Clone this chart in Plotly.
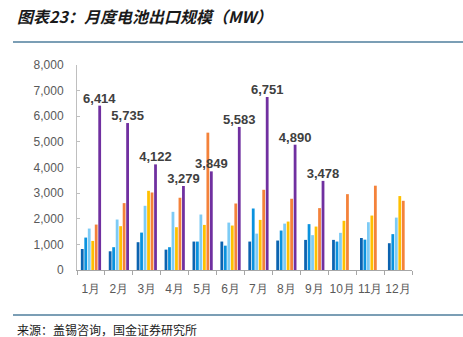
import plotly.graph_objects as go

months = ["1月", "2月", "3月", "4月", "5月", "6月", "7月", "8月", "9月", "10月", "11月", "12月"]
series_names = ["2018", "2019", "2020", "2021", "2022", "2023"]
s2018 = [820, 730, 1085, 795, 1110, 1110, 1110, 1150, 1175, 1175, 1250, 1045]
s2019 = [1265, 890, 1460, 890, 1110, 950, 2400, 1540, 1790, 1110, 1185, 1400]
s2020 = [1617, 1970, 2505, 2270, 2165, 1850, 1420, 1810, 1360, 1450, 1865, 2045]
s2021 = [1135, 1710, 3090, 1670, 1760, 1735, 1955, 1890, 1695, 1920, 2125, 2885]
s2022 = [1773, 2610, 3025, 2820, 5360, 2595, 3130, 2780, 2415, 2960, 3290, 2700]
s2023 = [6414, 5735, 4122, 3279, 3849, 5583, 6751, 4890, 3478, None, None, None]
colors = ["#0B63B0", "#0A92DE", "#7DCBF5", "#FFC000", "#F4823A", "#7030A0"]

all_series = [s2018, s2019, s2020, s2021, s2022, s2023]

fig = go.Figure()
for i, (name, vals) in enumerate(zip(series_names, all_series)):
    kw = {}
    if i == 5:
        kw = dict(
            text=[f"<b>{v:,}</b>" if v is not None else "" for v in vals],
            textposition="outside",
            textfont=dict(family="Liberation Sans, Arial", size=13, color="#404040"),
            constraintext="none",
            cliponaxis=False,
        )
    fig.add_trace(go.Bar(x=months, y=vals, name=name, marker_color=colors[i],
                         marker_line_width=0, **kw))

px0 = 77
pw = 335
ph = 205
def xp(px):
    return (px - px0) / pw
def yp(py):
    return (270 - py) / ph

fig.update_layout(
    width=463, height=337,
    margin=dict(l=77, r=51, t=65, b=67),
    paper_bgcolor="white", plot_bgcolor="white",
    barmode="group", bargap=0.25, bargroupgap=0.2,
    showlegend=False,
    font=dict(family="Liberation Sans, Arial", size=12, color="#595959"),
    shapes=[
        dict(type="line", xref="paper", yref="paper", x0=xp(13), x1=xp(463),
             y0=yp(42), y1=yp(42), line=dict(color="#4F7E9C", width=1.5)),
        dict(type="line", xref="paper", yref="paper", x0=xp(13), x1=xp(463),
             y0=yp(315), y1=yp(315), line=dict(color="#4F7E9C", width=1.5)),
    ],
    annotations=[
        dict(text="<b><i>图表23：月度电池出口规模（MW）</i></b>", xref="paper", yref="paper",
             x=xp(15), y=yp(16), xanchor="left", yanchor="middle", showarrow=False,
             font=dict(family="Noto Sans CJK SC", size=16, color="#1a1a1a")),
        dict(text="来源：盖锡咨询，国金证券研究所", xref="paper", yref="paper",
             x=xp(15), y=yp(329), xanchor="left", yanchor="middle", showarrow=False,
             font=dict(family="Noto Sans CJK SC", size=12, color="#1a1a1a")),
    ],
)
fig.update_xaxes(showline=True, linecolor="#A6A6A6", linewidth=1, ticks="outside",
                 tickson="boundaries", ticklen=4, tickcolor="#A6A6A6", tickangle=0,
                 ticklabelstandoff=8,
                 tickfont=dict(size=12, color="#595959"), showgrid=False)
fig.update_yaxes(range=[0, 8000], dtick=1000, tickformat=",", showline=True,
                 linecolor="#BFBFBF", linewidth=1, ticks="inside", ticklen=3,
                 ticklabelstandoff=10,
                 tickcolor="#BFBFBF", showgrid=False, zeroline=False,
                 tickfont=dict(size=12, color="#595959"))

fig.write_html("out.html")
